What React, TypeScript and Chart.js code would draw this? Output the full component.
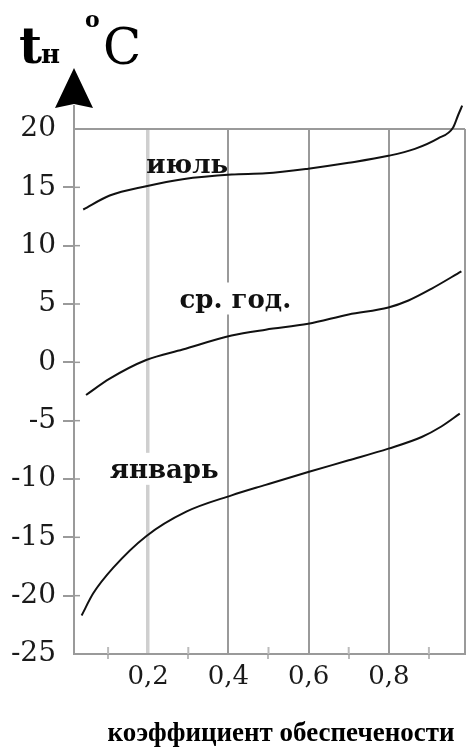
import React, { useEffect, useRef } from "react";
import { Chart, registerables } from "chart.js";

Chart.register(...registerables);

// ---- data ----
const seriesNames = ["июль", "ср. год.", "январь"];
const xJuly = [0.038, 0.104, 0.195, 0.286, 0.408, 0.493, 0.599, 0.7, 0.799, 0.865, 0.923, 0.96, 0.973, 0.983];
const tJuly = [13.1, 14.3, 15.1, 15.7, 16.1, 16.2, 16.6, 17.1, 17.7, 18.3, 19.2, 20.1, 21.2, 22.0];
const xYear = [0.045, 0.104, 0.195, 0.286, 0.408, 0.493, 0.599, 0.7, 0.799, 0.849, 0.906, 0.981];
const tYear = [-2.8, -1.4, 0.2, 1.1, 2.3, 2.8, 3.3, 4.1, 4.7, 5.3, 6.3, 7.8];
const xJan = [0.034, 0.063, 0.113, 0.195, 0.295, 0.408, 0.493, 0.599, 0.7, 0.799, 0.882, 0.931, 0.977];
const tJan = [-21.7, -19.8, -17.6, -14.9, -12.8, -11.4, -10.5, -9.4, -8.4, -7.4, -6.4, -5.5, -4.4];
const xTickValues = [0.1, 0.2, 0.3, 0.4, 0.5, 0.6, 0.7, 0.8, 0.9];
const xMajorTicks = [0.2, 0.4, 0.6, 0.8];
const X_MIN = 0.015;
const X_MAX = 0.99;
const Y_MIN = -25;
const Y_MAX = 20;
const Y_STEP = 5;
const xTitle = "коэффициент обеспечености";

// label anchors in data coordinates (left, baseline)
const seriesLabelAnchors = [
  { x: 0.195, y: 16.25, box: false },
  { x: 0.278, y: 4.7, box: true },
  { x: 0.104, y: -9.9, box: true },
];

const GRID = "#9a9a9a";
const SERIF = "'DejaVu Serif', serif";

const isMajor = (v: number) => xMajorTicks.some((m) => Math.abs(m - v) < 1e-6);

const decorPlugin = {
  id: "decor",
  afterDraw(chart: any) {
    const { ctx, chartArea, scales } = chart;
    const x = scales.x;
    const y = scales.y;
    ctx.save();
    // axis extension + arrow
    ctx.strokeStyle = GRID;
    ctx.lineWidth = 2;
    ctx.beginPath();
    ctx.moveTo(chartArea.left, chartArea.top);
    ctx.lineTo(chartArea.left, chartArea.top - 24);
    ctx.stroke();
    ctx.fillStyle = "#000";
    ctx.beginPath();
    ctx.moveTo(chartArea.left, chartArea.top - 61);
    ctx.lineTo(chartArea.left + 19, chartArea.top - 21);
    ctx.lineTo(chartArea.left, chartArea.top - 25);
    ctx.lineTo(chartArea.left - 19, chartArea.top - 21);
    ctx.closePath();
    ctx.fill();

    // inner tick stubs
    ctx.strokeStyle = GRID;
    ctx.lineWidth = 1.5;
    for (let v = Y_MIN + Y_STEP; v < Y_MAX; v += Y_STEP) {
      const py = y.getPixelForValue(v);
      ctx.beginPath();
      ctx.moveTo(chartArea.left, py);
      ctx.lineTo(chartArea.left + 6, py);
      ctx.stroke();
    }
    ctx.strokeStyle = "#bbbbbb";
    ctx.lineWidth = 2;
    xTickValues.forEach((v) => {
      if (isMajor(v)) return;
      const px = x.getPixelForValue(v);
      ctx.beginPath();
      ctx.moveTo(px, chartArea.bottom);
      ctx.lineTo(px, chartArea.bottom - 7);
      ctx.stroke();
    });

    // series labels
    ctx.font = `bold 26px ${SERIF}`;
    ctx.textBaseline = "alphabetic";
    ctx.textAlign = "left";
    seriesNames.forEach((name, i) => {
      const a = seriesLabelAnchors[i];
      const px = x.getPixelForValue(a.x);
      const py = y.getPixelForValue(a.y);
      const w = ctx.measureText(name).width;
      if (a.box) {
        ctx.fillStyle = "#fff";
        ctx.fillRect(px - 3, py - 25, w + 6, 32);
      }
      ctx.fillStyle = "#111";
      ctx.fillText(name, px, py);
    });

    // axis title (y)
    ctx.fillStyle = "#000";
    ctx.font = `bold 50px ${SERIF}`;
    ctx.fillText("t", 19, 63);
    ctx.font = `bold 26px ${SERIF}`;
    ctx.fillText("н", 41, 63);
    ctx.font = `bold 22px ${SERIF}`;
    ctx.fillText("o", 85, 27);
    ctx.font = `50px ${SERIF}`;
    ctx.fillText("C", 103, 64);

    // axis title (x)
    ctx.font = `bold 27px 'Liberation Serif', serif`;
    ctx.textAlign = "center";
    ctx.fillText(xTitle, 281, 741);
    ctx.restore();
  },
};

export default function App() {
  const ref = useRef<HTMLCanvasElement | null>(null);
  useEffect(() => {
    if (!ref.current) return;
    const mk = (xs: number[], ts: number[], name: string) => ({
      label: name,
      data: xs.map((v, i) => ({ x: v, y: ts[i] })),
      borderColor: "#111",
      borderWidth: 2,
      pointRadius: 0,
      cubicInterpolationMode: "monotone" as const,
      fill: false,
      clip: false as const,
    });
    const chart = new Chart(ref.current, {
      type: "line",
      data: {
        datasets: [
          mk(xJuly, tJuly, seriesNames[0]),
          mk(xYear, tYear, seriesNames[1]),
          mk(xJan, tJan, seriesNames[2]),
        ],
      },
      options: {
        responsive: false,
        animation: false,
        layout: { padding: { top: 129, right: 2, left: 0, bottom: 0 } },
        plugins: { legend: { display: false }, tooltip: { enabled: false }, title: { display: false } },
        scales: {
          x: {
            type: "linear",
            min: X_MIN,
            max: X_MAX,
            afterBuildTicks: (scale: any) => {
              scale.ticks = xTickValues.concat([X_MAX]).map((v) => ({ value: v }));
            },
            afterFit: (scale: any) => {
              scale.height = 93;
            },
            border: { color: GRID, width: 2 },
            grid: {
              drawOnChartArea: true,
              drawTicks: true,
              tickLength: 5,
              color: (c: any) => {
                const v = c.tick ? c.tick.value : 0;
                if (Math.abs(v - 0.2) < 1e-6) return "#cfcfcf";
                if (isMajor(v) || Math.abs(v - X_MAX) < 1e-6) return GRID;
                return "rgba(0,0,0,0)";
              },
              lineWidth: (c: any) => {
                const v = c.tick ? c.tick.value : 0;
                if (Math.abs(v - 0.2) < 1e-6) return 3.5;
                return 2;
              },
              tickColor: (c: any) => {
                const v = c.tick ? c.tick.value : 0;
                if (isMajor(v) || Math.abs(v - X_MAX) < 1e-6) return "rgba(0,0,0,0)";
                return "#bbbbbb";
              },
            },
            ticks: {
              autoSkip: false,
              maxRotation: 0,
              padding: 3,
              color: "#1a1a1a",
              font: { family: SERIF, size: 26 },
              callback: (v: any) => (isMajor(Number(v)) ? Number(v).toFixed(1).replace(".", ",") : ""),
            },
          },
          y: {
            type: "linear",
            min: Y_MIN,
            max: Y_MAX,
            afterFit: (scale: any) => {
              scale.width = 74;
            },
            border: { color: GRID, width: 2 },
            grid: {
              drawOnChartArea: true,
              tickLength: 11,
              color: (c: any) => (c.tick && c.tick.value === Y_MAX ? GRID : "rgba(0,0,0,0)"),
              lineWidth: 2,
              tickColor: (c: any) =>
                c.tick && (c.tick.value === Y_MAX || c.tick.value === Y_MIN) ? "rgba(0,0,0,0)" : GRID,
            },
            ticks: {
              stepSize: Y_STEP,
              padding: 7,
              color: "#1a1a1a",
              font: { family: SERIF, size: 28 },
            },
          },
        },
      },
      plugins: [decorPlugin],
    });
    return () => chart.destroy();
  }, []);
  return (
    <div style={{ position: "absolute", left: 0, top: 0, width: 468, height: 747, background: "#fff" }}>
      <canvas ref={ref} width={468} height={747} style={{ display: "block", width: 468, height: 747 }} />
    </div>
  );
}
